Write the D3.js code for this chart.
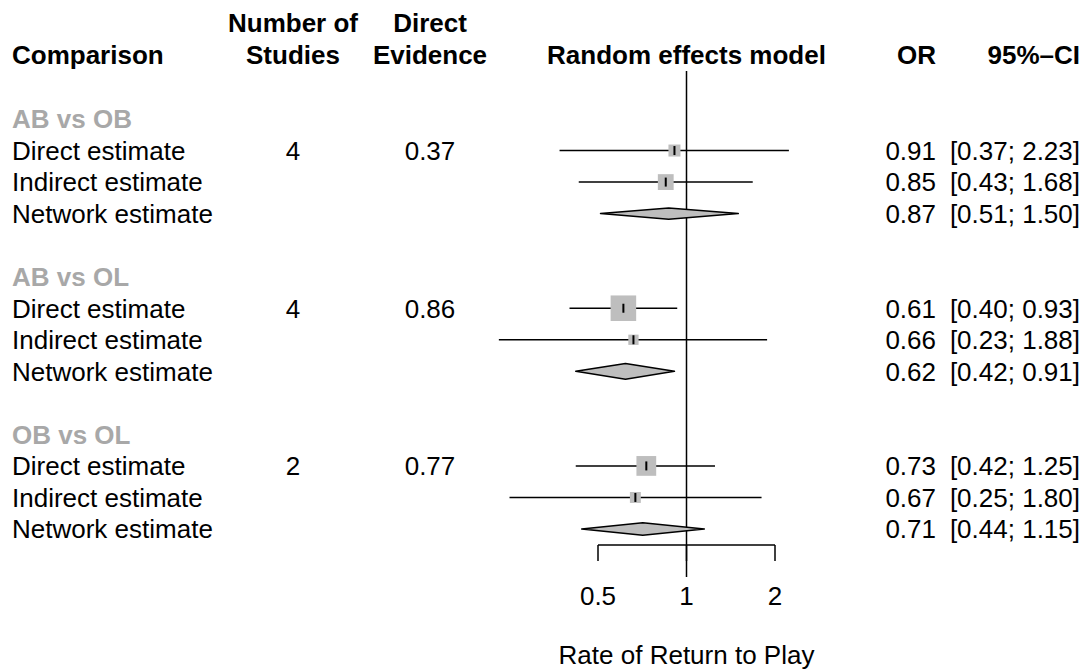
<!DOCTYPE html>
<html>
<head>
<meta charset="utf-8">
<script src="https://cdn.jsdelivr.net/npm/d3@7"></script>
<style>
  html, body { margin: 0; padding: 0; background: #fff; }
  svg text { font-family: "Liberation Sans", Arial, Helvetica, sans-serif; font-size: 26px; fill: #000; }
</style>
</head>
<body>
<svg id="chart" width="1085" height="671"></svg>
<script>
// Comparisons and their direct / indirect / network odds ratios
const comparisons = ["AB vs OB", "AB vs OL", "OB vs OL"];
const estimateTypes = ["Direct estimate", "Indirect estimate", "Network estimate"];
const nStudies = [4, 4, 2];
const directEvidence = [0.37, 0.86, 0.77];

const orDirect    = [0.91, 0.61, 0.73];
const lowerDirect = [0.37, 0.40, 0.42];
const upperDirect = [2.23, 0.93, 1.25];

const orIndirect    = [0.85, 0.66, 0.67];
const lowerIndirect = [0.43, 0.23, 0.25];
const upperIndirect = [1.68, 1.88, 1.80];

const orNetwork    = [0.87, 0.62, 0.71];
const lowerNetwork = [0.51, 0.42, 0.44];
const upperNetwork = [1.50, 0.91, 1.15];

const xTicks = [0.5, 1, 2];
const xLabel = "Rate of Return to Play";

// Build one record per estimate row
const ors = [orDirect, orIndirect, orNetwork];
const lows = [lowerDirect, lowerIndirect, lowerNetwork];
const ups = [upperDirect, upperIndirect, upperNetwork];
const fmt = d3.format(".2f");

const rows = [];
comparisons.forEach((c, g) => {
  rows.push({ kind: "group", label: c, slot: g * 5 });
  estimateTypes.forEach((t, k) => {
    const lo = lows[k][g], hi = ups[k][g];
    const se = Math.log(hi / lo) / (2 * 1.96);
    rows.push({
      kind: k === 2 ? "network" : "study",
      label: t,
      slot: g * 5 + k + 1,
      or: ors[k][g], lo, hi,
      precision: 1 / (se * se),
      n: k === 0 ? nStudies[g] : null,
      de: k === 0 ? directEvidence[g] : null
    });
  });
});

const svg = d3.select("#chart");

// Scales
const x = d3.scaleLog().domain([0.5, 2]).range([598, 775]);
const y = d3.scaleLinear().domain([0, 13]).range([119, 529]);
const maxPrec = d3.max(rows.filter(r => r.kind !== "group"), r => r.precision);
const boxSize = d3.scaleSqrt().domain([0, maxPrec]).range([0, 5.5 * Math.sqrt(maxPrec)]);
const diamondH = d3.scaleSqrt().domain([0, maxPrec]).range([0, 3.1 * Math.sqrt(maxPrec)]);

const colCompare = 12, colStudies = 293, colEvidence = 430, colOR = 936, colCI = 1080;
const baseOff = 9.3;

// Column headers
const hdr = svg.append("g");
const header = (tx, ty, anchor, label) =>
  hdr.append("text").attr("x", tx).attr("y", ty).attr("text-anchor", anchor)
    .attr("font-weight", "bold").text(label);
header(colCompare, 64, "start", "Comparison");
header(colStudies, 32, "middle", "Number of");
header(colStudies, 64, "middle", "Studies");
header(colEvidence, 32, "middle", "Direct");
header(colEvidence, 64, "middle", "Evidence");
header(x(1), 64, "middle", "Random effects model");
header(colOR, 64, "end", "OR");
header(colCI, 64, "end", "95%\u2013CI");

// Left-hand labels
svg.append("g").selectAll("text").data(rows).join("text")
  .attr("x", colCompare)
  .attr("y", d => y(d.slot) + baseOff)
  .attr("font-weight", d => d.kind === "group" ? "bold" : null)
  .style("fill", d => d.kind === "group" ? "#a8a8a8" : "#000")
  .text(d => d.label);

const est = rows.filter(r => r.kind !== "group");

// Number of studies and direct evidence columns
svg.append("g").selectAll("text").data(est.filter(r => r.n !== null)).join("text")
  .attr("x", colStudies).attr("y", d => y(d.slot) + baseOff)
  .attr("text-anchor", "middle").text(d => d.n);
svg.append("g").selectAll("text").data(est.filter(r => r.de !== null)).join("text")
  .attr("x", colEvidence).attr("y", d => y(d.slot) + baseOff)
  .attr("text-anchor", "middle").text(d => fmt(d.de));

// OR and CI columns
svg.append("g").selectAll("text").data(est).join("text")
  .attr("x", colOR).attr("y", d => y(d.slot) + baseOff)
  .attr("text-anchor", "end").text(d => fmt(d.or));
svg.append("g").selectAll("text").data(est).join("text")
  .attr("x", colCI).attr("y", d => y(d.slot) + baseOff)
  .attr("text-anchor", "end").text(d => `[${fmt(d.lo)}; ${fmt(d.hi)}]`);

// Line of no effect
svg.append("line")
  .attr("x1", x(1)).attr("x2", x(1)).attr("y1", 71).attr("y2", 577)
  .attr("stroke", "#000").attr("stroke-width", 1.5);

// Study-type estimates: CI line, weighted square, centre tick
const studies = est.filter(r => r.kind === "study");
const sg = svg.append("g");
sg.selectAll("line.ci").data(studies).join("line").attr("class", "ci")
  .attr("x1", d => x(d.lo)).attr("x2", d => x(d.hi))
  .attr("y1", d => y(d.slot)).attr("y2", d => y(d.slot))
  .attr("stroke", "#000").attr("stroke-width", 1.5);
sg.selectAll("rect").data(studies).join("rect")
  .attr("x", d => x(d.or) - boxSize(d.precision) / 2)
  .attr("y", d => y(d.slot) - boxSize(d.precision) / 2)
  .attr("width", d => boxSize(d.precision))
  .attr("height", d => boxSize(d.precision))
  .attr("fill", "#bebebe");
sg.selectAll("line.pt").data(studies).join("line").attr("class", "pt")
  .attr("x1", d => x(d.or)).attr("x2", d => x(d.or))
  .attr("y1", d => y(d.slot) - 4.5).attr("y2", d => y(d.slot) + 4.5)
  .attr("stroke", "#000").attr("stroke-width", 2);

// Network estimates as diamonds
const nets = est.filter(r => r.kind === "network");
svg.append("g").selectAll("path").data(nets).join("path")
  .attr("d", d => {
    const cy = y(d.slot), h = diamondH(d.precision) / 2;
    return `M${x(d.lo)},${cy}L${x(d.or)},${cy - h}L${x(d.hi)},${cy}L${x(d.or)},${cy + h}Z`;
  })
  .attr("fill", "#bebebe").attr("stroke", "#000").attr("stroke-width", 1.5)
  .attr("stroke-linejoin", "round");

// Bottom axis with bracket-style ticks
const axisY = 545;
const ax = svg.append("g");
ax.append("line")
  .attr("x1", x(xTicks[0])).attr("x2", x(xTicks[xTicks.length - 1]))
  .attr("y1", axisY).attr("y2", axisY)
  .attr("stroke", "#000").attr("stroke-width", 1.5);
ax.selectAll("line.tick").data(xTicks).join("line").attr("class", "tick")
  .attr("x1", d => x(d)).attr("x2", d => x(d))
  .attr("y1", axisY).attr("y2", axisY + 16)
  .attr("stroke", "#000").attr("stroke-width", 1.5);
ax.selectAll("text").data(xTicks).join("text")
  .attr("x", d => x(d)).attr("y", 605)
  .attr("text-anchor", "middle").text(d => d);

svg.append("text")
  .attr("x", x(1)).attr("y", 664)
  .attr("text-anchor", "middle").text(xLabel);
</script>
</body>
</html>
